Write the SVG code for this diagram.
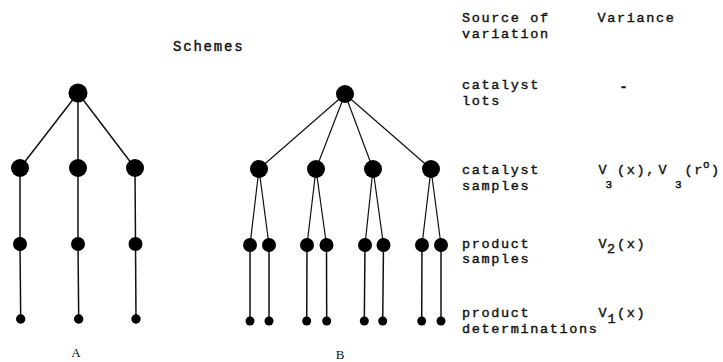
<svg xmlns="http://www.w3.org/2000/svg" width="723" height="362" viewBox="0 0 723 362">
<style>
.bg{fill:#fff}
.t{font-family:"Liberation Mono","DejaVu Sans Mono",monospace;font-size:13.5px;letter-spacing:1.65px;fill:#111;stroke:#111;stroke-width:0.4}
.s{font-size:11px;letter-spacing:0}
.lab{font-family:"Liberation Serif","DejaVu Serif",serif;font-size:13px;fill:#111}
.e{stroke:#111;stroke-width:1.5;fill:none}
.eb{stroke:#111;stroke-width:1.2;fill:none}
.n{fill:#000}
</style>
<rect class="bg" x="0" y="0" width="723" height="362"/>
<text class="t" x="173" y="51" style="font-size:14px;letter-spacing:1.8px">Schemes</text>
<g id="connectors">
  <g id="edges-A">
    <line class="e" x1="78" y1="93" x2="20" y2="168"/>
    <line class="e" x1="78" y1="93" x2="78" y2="168"/>
    <line class="e" x1="78" y1="93" x2="135" y2="168"/>
    <line class="e" x1="20" y1="168" x2="20" y2="244"/>
    <line class="e" x1="78" y1="168" x2="78" y2="244"/>
    <line class="e" x1="135" y1="168" x2="135.5" y2="244"/>
    <line class="e" x1="20" y1="244" x2="20.7" y2="319"/>
    <line class="e" x1="78" y1="244" x2="78.7" y2="319"/>
    <line class="e" x1="135.5" y1="244" x2="136" y2="319"/>
  </g>
  <g id="edges-B">
    <line class="eb" x1="345" y1="94" x2="259" y2="169"/>
    <line class="eb" x1="345" y1="94" x2="316" y2="169"/>
    <line class="eb" x1="345" y1="94" x2="373" y2="169"/>
    <line class="eb" x1="345" y1="94" x2="431" y2="169"/>
    <line class="eb" x1="259" y1="169" x2="250" y2="245"/>
    <line class="eb" x1="259" y1="169" x2="269" y2="245"/>
    <line class="eb" x1="316" y1="169" x2="307" y2="245"/>
    <line class="eb" x1="316" y1="169" x2="326.5" y2="245"/>
    <line class="eb" x1="373" y1="169" x2="365" y2="245"/>
    <line class="eb" x1="373" y1="169" x2="383.5" y2="245"/>
    <line class="eb" x1="431" y1="169" x2="422" y2="245"/>
    <line class="eb" x1="431" y1="169" x2="441" y2="245"/>
    <line class="e" x1="250" y1="245" x2="250" y2="321"/>
    <line class="e" x1="269" y1="245" x2="269" y2="321"/>
    <line class="e" x1="307" y1="245" x2="306.7" y2="321"/>
    <line class="e" x1="326.5" y1="245" x2="326.7" y2="321"/>
    <line class="e" x1="365" y1="245" x2="364.3" y2="321"/>
    <line class="e" x1="383.5" y1="245" x2="382.7" y2="321"/>
    <line class="e" x1="422" y1="245" x2="421.7" y2="321"/>
    <line class="e" x1="441" y1="245" x2="441" y2="321"/>
  </g>
</g>
<g id="tree-A">
  <circle id="A-root" class="n" cx="78" cy="93" r="9.5"/>
  <g id="A-l2"><circle class="n" cx="20" cy="168" r="9"/><circle class="n" cx="78" cy="168" r="9"/><circle class="n" cx="135" cy="168" r="9"/></g>
  <g id="A-l3"><circle class="n" cx="20" cy="244" r="7"/><circle class="n" cx="78" cy="244" r="7"/><circle class="n" cx="135.5" cy="244" r="7"/></g>
  <g id="A-l4"><circle class="n" cx="20.7" cy="319" r="4.7"/><circle class="n" cx="78.7" cy="319" r="4.7"/><circle class="n" cx="136" cy="319" r="4.7"/></g>
  <text id="A-label" class="lab" x="76" y="357" text-anchor="middle">A</text>
</g>
<g id="tree-B">
  <circle id="B-root" class="n" cx="345" cy="94" r="9"/>
  <g id="B-l2"><circle class="n" cx="259" cy="169" r="9"/><circle class="n" cx="316" cy="169" r="9"/><circle class="n" cx="373" cy="169" r="9"/><circle class="n" cx="431" cy="169" r="9"/></g>
  <g id="B-l3"><circle class="n" cx="250" cy="245" r="7"/><circle class="n" cx="269" cy="245" r="7"/><circle class="n" cx="307" cy="245" r="7"/><circle class="n" cx="326.5" cy="245" r="7"/><circle class="n" cx="365" cy="245" r="7"/><circle class="n" cx="383.5" cy="245" r="7"/><circle class="n" cx="422" cy="245" r="7"/><circle class="n" cx="441" cy="245" r="7"/></g>
  <g id="B-l4"><circle class="n" cx="250" cy="321" r="4.5"/><circle class="n" cx="269" cy="321" r="4.5"/><circle class="n" cx="306.7" cy="321" r="4.5"/><circle class="n" cx="326.7" cy="321" r="4.5"/><circle class="n" cx="364.3" cy="321" r="4.5"/><circle class="n" cx="382.7" cy="321" r="4.5"/><circle class="n" cx="421.7" cy="321" r="4.5"/><circle class="n" cx="441" cy="321" r="4.5"/></g>
  <text id="B-label" class="lab" x="340" y="358.5" text-anchor="middle">B</text>
</g>
<g id="table">
  <text class="t" x="462" y="22">Source of</text>
  <text class="t" x="462" y="38">variation</text>
  <text class="t" x="597.5" y="22">Variance</text>
  <text class="t" x="462" y="89">catalyst</text>
  <text class="t" x="462" y="105">lots</text>
  <text class="t" x="619.5" y="91" style="font-weight:bold">-</text>
  <text class="t" x="462" y="174">catalyst</text>
  <text class="t" x="462" y="190">samples</text>
  <text class="t"><tspan x="598.5" y="174">V</tspan><tspan class="s" x="605.5" y="188">3</tspan><tspan x="617" y="174">(x),</tspan><tspan x="658.5" y="174">V</tspan><tspan class="s" x="675" y="188">3</tspan><tspan x="684.5" y="174">(r</tspan><tspan class="s" x="703" y="168">o</tspan><tspan x="711" y="174">)</tspan></text>
  <text class="t" x="462" y="248">product</text>
  <text class="t" x="462" y="263">samples</text>
  <text class="t"><tspan x="598.5" y="248">V</tspan><tspan x="607" y="253" style="letter-spacing:0">2</tspan><tspan x="617" y="248">(x)</tspan></text>
  <text class="t" x="462" y="317">product</text>
  <text class="t" x="462" y="333">determinations</text>
  <text class="t"><tspan x="598.5" y="317">V</tspan><tspan x="607.5" y="323" style="letter-spacing:0">1</tspan><tspan x="617" y="317">(x)</tspan></text>
</g>
</svg>
